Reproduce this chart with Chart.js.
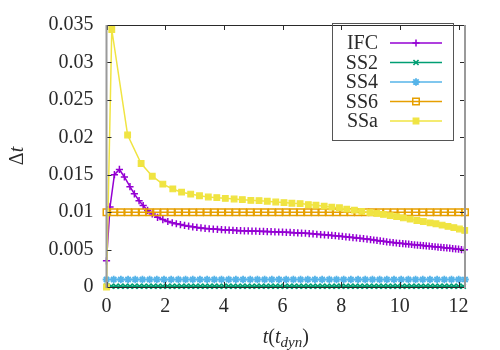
<!DOCTYPE html>
<html>
<head>
<meta charset="utf-8">
<script src="https://cdn.jsdelivr.net/npm/chart.js@4"></script>
<style>
  body { margin: 0; background: #fff; }
  #wrap { width: 500px; height: 350px; }
</style>
</head>
<body>
<div id="wrap"><canvas id="myChart" width="500" height="350"></canvas></div>
<script>
// time (t_dyn) and timestep values
var ifcT = [0, 0.12, 0.27, 0.44, 0.61, 0.8, 0.95, 1.11, 1.25, 1.4, 1.56, 1.74, 1.92, 2.09, 2.24,
  2.38, 2.52, 2.66, 2.8, 2.94, 3.08, 3.22, 3.36, 3.5, 3.64, 3.78, 3.92, 4.05, 4.18, 4.31, 4.44,
  4.57, 4.7, 4.83, 4.96, 5.09, 5.22, 5.35, 5.48, 5.61, 5.74, 5.87, 6, 6.13, 6.26, 6.39, 6.52,
  6.65, 6.78, 6.91, 7.04, 7.17, 7.3, 7.43, 7.56, 7.68, 7.8, 7.92, 8.04, 8.16, 8.28, 8.4, 8.52,
  8.64, 8.76, 8.88, 9, 9.11, 9.22, 9.33, 9.44, 9.55, 9.66, 9.77, 9.88, 9.99, 10.1, 10.2, 10.3,
  10.4, 10.5, 10.6, 10.7, 10.8, 10.9, 11, 11.1, 11.2, 11.3, 11.4, 11.5, 11.6, 11.7, 11.8, 11.9,
  12, 12.1, 12.2];
var ifcDt = [0.0035, 0.0107, 0.015, 0.0157, 0.0147, 0.0134, 0.01245, 0.01153, 0.01088, 0.01023,
  0.00975, 0.00931, 0.00901, 0.00875, 0.00858,
  0.00845, 0.00834, 0.00823, 0.00813, 0.00804, 0.00796, 0.00789, 0.00783, 0.00778, 0.00774,
  0.0077, 0.00766, 0.00763, 0.0076, 0.00757, 0.00755, 0.00753, 0.00751, 0.00749, 0.00747,
  0.00746, 0.00744, 0.00742, 0.00741, 0.00739, 0.00737, 0.00735, 0.00733, 0.00731, 0.00729,
  0.00726, 0.00723, 0.00721, 0.00718, 0.00714, 0.0071, 0.00705, 0.00701, 0.00697, 0.00693,
  0.00689, 0.00685, 0.0068, 0.00675, 0.0067, 0.00665, 0.0066, 0.00655, 0.0065, 0.00645,
  0.0064, 0.00634, 0.00628, 0.00622, 0.00616, 0.0061, 0.00604, 0.00598, 0.00593, 0.00588,
  0.00584, 0.0058, 0.00576, 0.00572, 0.00568, 0.00564, 0.0056, 0.00557, 0.00553, 0.00549,
  0.00545, 0.00541, 0.00538, 0.00534, 0.0053, 0.00526, 0.00522, 0.00518, 0.00513, 0.00509,
  0.00505, 0.005, 0.00496];

var ssaT = [0, 0.18, 0.72, 1.18, 1.56, 1.92, 2.26, 2.56, 2.87, 3.17, 3.47, 3.76, 4.05, 4.35,
  4.63, 4.92, 5.2, 5.48, 5.77, 6.05, 6.32, 6.6, 6.88, 7.14, 7.42, 7.68, 7.94, 8.19, 8.45, 8.7,
  8.98, 9.21, 9.44, 9.67, 9.89, 10.12, 10.35, 10.58, 10.8, 11.03, 11.23, 11.44, 11.64, 11.84,
  12.03, 12.21];
var ssaDt = [0, 0.0344, 0.0203, 0.0165, 0.0148, 0.01375, 0.0131, 0.01267, 0.01241, 0.01219,
  0.01202, 0.01193, 0.01184, 0.01175, 0.01167, 0.01158, 0.01153, 0.01145, 0.01136, 0.01128,
  0.01119, 0.01114, 0.01101, 0.01093, 0.0108, 0.01067, 0.01058, 0.0104, 0.01027, 0.0101,
  0.00993, 0.00984, 0.0097, 0.00953, 0.0094, 0.00923, 0.00906, 0.00888, 0.00875, 0.00857,
  0.00845, 0.00827, 0.0081, 0.00793, 0.00775, 0.00757];

// fixed-step runs
var ss2T = [0, 0.16, 0.32, 0.48, 0.64, 0.8, 0.96, 1.12, 1.28, 1.44, 1.6, 1.76, 1.92, 2.08, 2.24,
  2.4, 2.56, 2.72, 2.88, 3.04, 3.2, 3.36, 3.52, 3.68, 3.84, 4, 4.16, 4.32, 4.48, 4.64, 4.8, 4.96,
  5.12, 5.28, 5.44, 5.6, 5.76, 5.92, 6.08, 6.24, 6.4, 6.56, 6.72, 6.88, 7.04, 7.2, 7.36, 7.52,
  7.68, 7.84, 8, 8.16, 8.32, 8.48, 8.64, 8.8, 8.96, 9.12, 9.28, 9.44, 9.6, 9.76, 9.92, 10.08,
  10.24, 10.4, 10.56, 10.72, 10.88, 11.04, 11.2, 11.36, 11.52, 11.68, 11.84, 12, 12.16];
var ss46T = [0, 0.245, 0.49, 0.735, 0.98, 1.225, 1.47, 1.715, 1.96, 2.205, 2.45, 2.695, 2.94,
  3.185, 3.43, 3.675, 3.92, 4.165, 4.41, 4.655, 4.9, 5.145, 5.39, 5.635, 5.88, 6.125, 6.37,
  6.615, 6.86, 7.105, 7.35, 7.595, 7.84, 8.085, 8.33, 8.575, 8.82, 9.065, 9.31, 9.555, 9.8,
  10.045, 10.29, 10.535, 10.78, 11.025, 11.27, 11.515, 11.76, 12.005, 12.22];
var ss2Dt = 0.0001;
var ss4Dt = 0.001;
var ss6Dt = 0.01;

var xTicks = [0, 2, 4, 6, 8, 10, 12];
var yTicks = [0, 0.005, 0.01, 0.015, 0.02, 0.025, 0.03, 0.035];

var series = [
  { label: "IFC", color: "#9400d3", style: "cross", r: 3.6, bw: 1.5, fill: "#9400d3", t: ifcT, dt: ifcDt },
  { label: "SS2", color: "#009e73", style: "crossRot", r: 3.6, bw: 1.6, fill: "#009e73", t: ss2T, dt: ss2T.map(function () { return ss2Dt; }) },
  { label: "SS4", color: "#56b4e9", style: "star", r: 3.8, bw: 1.8, fill: "#56b4e9", t: ss46T, dt: ss46T.map(function () { return ss4Dt; }) },
  { label: "SS6", color: "#e69f00", style: "rect", r: 4.6, bw: 1.5, fill: "rgba(0,0,0,0)", t: ss46T, dt: ss46T.map(function () { return ss6Dt; }) },
  { label: "SSa", color: "#f0e442", style: "rect", r: 4.0, bw: 1.2, fill: "#f0e442", t: ssaT, dt: ssaDt },
];

var serif = "Liberation Serif";
var ink = "#2a2a2a";
Chart.defaults.font.family = serif;

function drawMarker(ctx, s, x, y) {
  var r = s.r;
  ctx.lineWidth = s.bw;
  ctx.beginPath();
  if (s.style === "cross" || s.style === "star") {
    ctx.moveTo(x - r, y); ctx.lineTo(x + r, y);
    ctx.moveTo(x, y - r); ctx.lineTo(x, y + r);
  }
  if (s.style === "crossRot" || s.style === "star") {
    var d = r * Math.SQRT1_2;
    ctx.moveTo(x - d, y - d); ctx.lineTo(x + d, y + d);
    ctx.moveTo(x - d, y + d); ctx.lineTo(x + d, y - d);
  }
  if (s.style === "rect") {
    var h = r * Math.SQRT1_2;
    ctx.rect(x - h, y - h, 2 * h, 2 * h);
    ctx.fillStyle = s.fill;
    ctx.fill();
  }
  ctx.stroke();
}

// gnuplot style frame with inward ticks on all four sides
var framePlugin = {
  id: "frame",
  afterDatasetsDraw: function (chart) {
    var ctx = chart.ctx, a = chart.chartArea;
    var xs = chart.scales.x, ys = chart.scales.y;
    ctx.save();
    ctx.strokeStyle = ink;
    ctx.lineWidth = 1;
    ctx.beginPath();
    xTicks.forEach(function (v) {
      var px = Math.round(xs.getPixelForValue(v)) + 0.5;
      ctx.moveTo(px, a.bottom); ctx.lineTo(px, a.bottom - 5);
      ctx.moveTo(px, a.top); ctx.lineTo(px, a.top + 5);
    });
    yTicks.forEach(function (v) {
      var py = Math.round(ys.getPixelForValue(v)) + 0.5;
      ctx.moveTo(a.left, py); ctx.lineTo(a.left + 5, py);
      ctx.moveTo(a.right, py); ctx.lineTo(a.right - 5, py);
    });
    ctx.moveTo(a.left, a.top + 0.5); ctx.lineTo(a.right, a.top + 0.5);
    ctx.moveTo(a.left, a.bottom + 0.5); ctx.lineTo(a.right, a.bottom + 0.5);
    ctx.stroke();
    ctx.strokeStyle = "#9a9a9a";
    ctx.lineWidth = 2;
    ctx.beginPath();
    ctx.moveTo(a.left, a.top); ctx.lineTo(a.left, a.bottom + 1);
    ctx.moveTo(a.right, a.top); ctx.lineTo(a.right, a.bottom + 1);
    ctx.stroke();
    ctx.restore();
  },
  afterDraw: function (chart) {
    var ctx = chart.ctx, a = chart.chartArea;
    ctx.save();
    ctx.fillStyle = ink;

    // x title: t(t_dyn)
    var big = "20px '" + serif + "'", bigIt = "italic 20px '" + serif + "'", small = "italic 15px '" + serif + "'";
    var parts = [["t", bigIt, 0], ["(", big, 0], ["t", bigIt, 0], ["dyn", small, 4], [")", big, 0]];
    var w = 0;
    parts.forEach(function (p) { ctx.font = p[1]; w += ctx.measureText(p[0]).width; });
    var cx = (a.left + a.right) / 2 - w / 2, base = 343;
    ctx.textBaseline = "alphabetic";
    ctx.textAlign = "left";
    parts.forEach(function (p) {
      ctx.font = p[1];
      ctx.fillText(p[0], cx, base + p[2]);
      cx += ctx.measureText(p[0]).width;
    });

    // y title: Δt
    ctx.save();
    ctx.translate(23, (a.top + a.bottom) / 2);
    ctx.rotate(-Math.PI / 2);
    ctx.font = big;
    var w1 = ctx.measureText("Δ").width;
    ctx.font = bigIt;
    var w2 = ctx.measureText("t").width;
    ctx.font = big;
    ctx.fillText("Δ", -(w1 + w2) / 2, 0);
    ctx.font = bigIt;
    ctx.fillText("t", -(w1 + w2) / 2 + w1, 0);
    ctx.restore();

    // key box
    ctx.strokeStyle = "#555";
    ctx.lineWidth = 1;
    ctx.strokeRect(332.5, 23.5, 121, 117);
    ctx.font = big;
    ctx.textAlign = "right";
    ctx.textBaseline = "middle";
    series.forEach(function (s, i) {
      var y = 43 + i * 19.5;
      ctx.fillStyle = ink;
      ctx.fillText(s.label, 378, y + 1);
      ctx.strokeStyle = s.color;
      ctx.lineWidth = 1.5;
      ctx.beginPath();
      ctx.moveTo(390, y); ctx.lineTo(442, y);
      ctx.stroke();
      drawMarker(ctx, s, 416, y);
    });
    ctx.restore();
  }
};

function renderChart() {
  var datasets = series.map(function (s, i) {
    return {
      label: s.label,
      data: s.t.map(function (t, k) { return { x: t, y: s.dt[k] }; }),
      borderColor: s.color,
      backgroundColor: s.color,
      borderWidth: 1.5,
      pointStyle: s.style,
      pointRadius: s.r,
      pointBorderWidth: s.bw,
      pointBackgroundColor: s.fill,
      pointBorderColor: s.color,
      tension: 0,
      order: series.length - i,
      clip: 8,
    };
  });

  var tickFont = { family: serif, size: 20 };

  var config = {
    type: "line",
    data: { datasets: datasets },
    options: {
      responsive: false,
      animation: false,
      layout: { padding: { left: 0, right: 35, top: 19, bottom: 0 } },
      plugins: { legend: { display: false }, tooltip: { enabled: false } },
      scales: {
        x: {
          type: "linear",
          min: 0,
          max: 12.22,
          afterFit: function (scale) { scale.height = 63; },
          afterBuildTicks: function (scale) {
            scale.ticks = xTicks.map(function (v) { return { value: v }; });
          },
          grid: { display: false, drawTicks: false },
          border: { display: false },
          ticks: {
            padding: 8,
            color: ink,
            font: tickFont,
            maxRotation: 0,
            callback: function (v) { return String(v); },
          },
        },
        y: {
          type: "linear",
          min: 0,
          max: 0.035,
          afterFit: function (scale) { scale.width = 106.5; },
          afterBuildTicks: function (scale) {
            scale.ticks = yTicks.map(function (v) { return { value: v }; });
          },
          grid: { display: false, drawTicks: false },
          border: { display: false },
          ticks: {
            padding: 13,
            color: ink,
            font: tickFont,
            callback: function (v) { return String(+v.toFixed(3)); },
          },
        },
      },
    },
    plugins: [framePlugin],
  };

  new Chart(document.getElementById("myChart"), config);
}
renderChart();
</script>
</body>
</html>
